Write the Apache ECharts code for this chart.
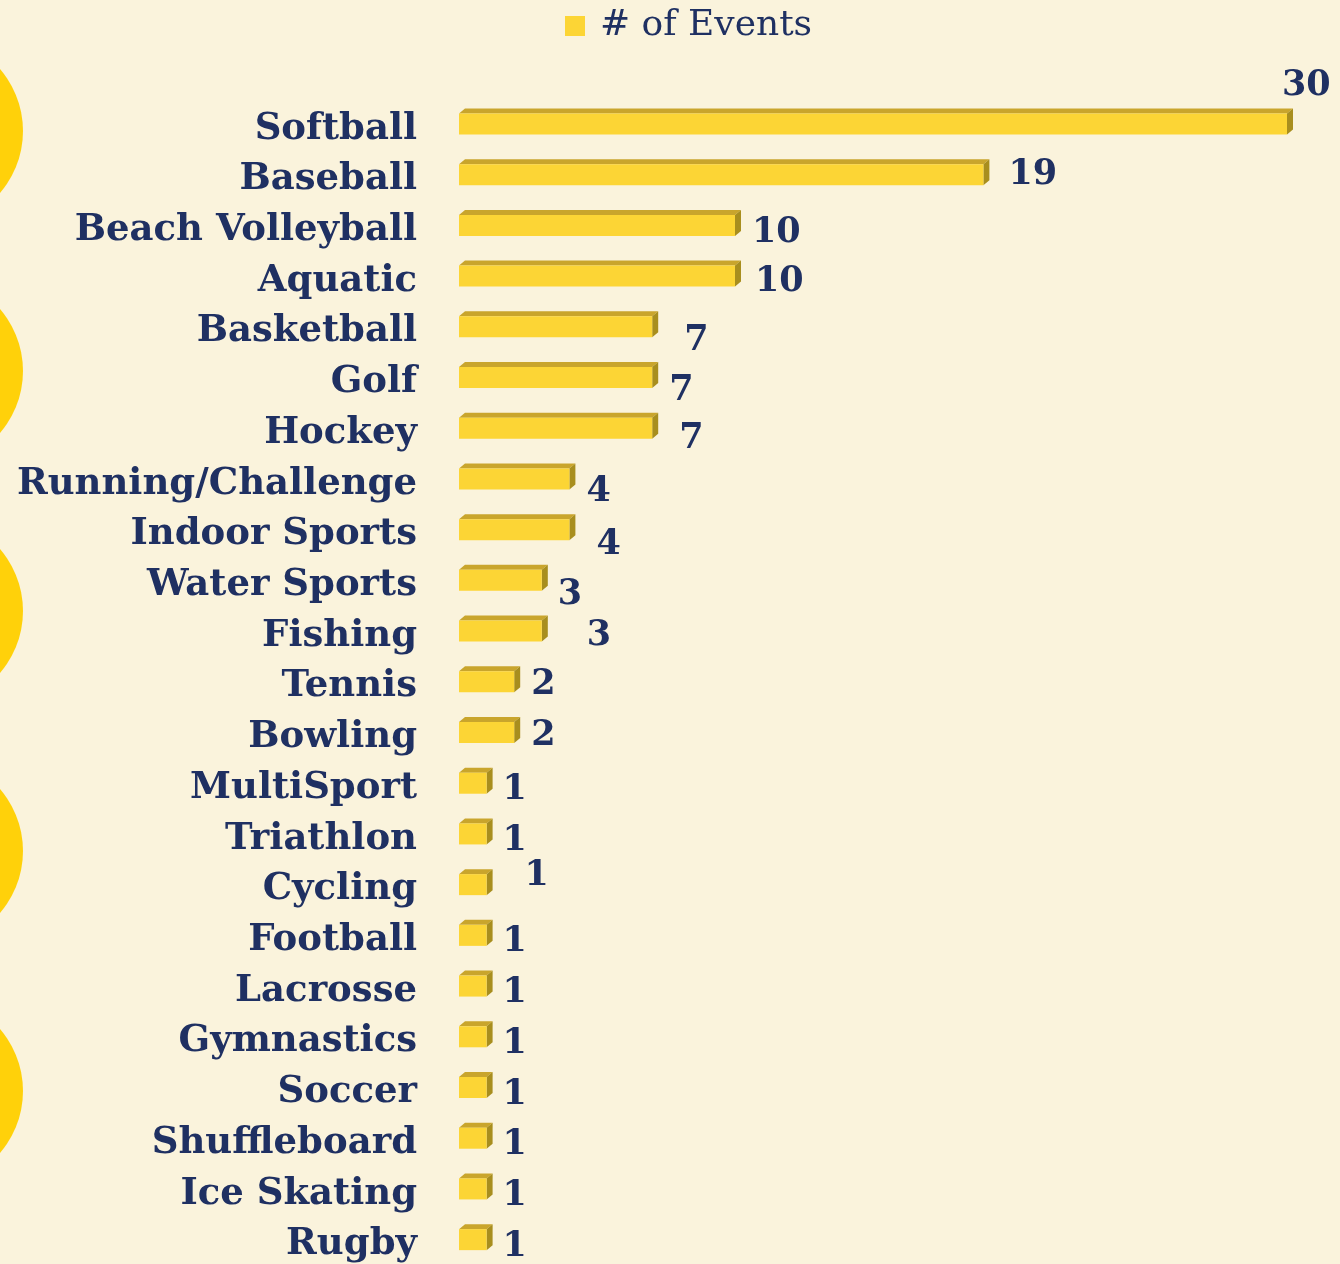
<!DOCTYPE html>
<html>
<head>
<meta charset="utf-8">
<script src="https://cdn.jsdelivr.net/npm/echarts@6/dist/echarts.min.js"></script>
<style>
  html, body { margin: 0; padding: 0; background: #FAF3DC; }
  #chart { width: 1340px; height: 1264px; }
</style>
</head>
<body>
<div id="chart"></div>
<script>
const categories = [
  'Softball', 'Baseball', 'Beach Volleyball', 'Aquatic', 'Basketball', 'Golf', 'Hockey',
  'Running/Challenge', 'Indoor Sports', 'Water Sports', 'Fishing', 'Tennis', 'Bowling',
  'MultiSport', 'Triathlon', 'Cycling', 'Football', 'Lacrosse', 'Gymnastics', 'Soccer',
  'Shuffleboard', 'Ice Skating', 'Rugby'
];
const eventCounts = [30, 19, 10, 10, 7, 7, 7, 4, 4, 3, 3, 2, 2, 1, 1, 1, 1, 1, 1, 1, 1, 1, 1];
const seriesName = '# of Events';

// label nudges (px) to mimic the loose placement of the original value labels
const labelNudge = [
  [-11, -41], [19, -3], [11, 5], [14, 3], [26, 11], [11, 10], [21, 8],
  [11, 10], [21, 12], [10, 12], [39, 2], [11, 0], [11, 0],
  [10, 4], [10, 4], [32, -12], [10, 4], [10, 4], [10, 4], [10, 4],
  [10, 4], [10, 4], [10, 4]
];

const NAVY = '#1F3062';
const FRONT = '#FCD535';
const TOP = '#C9A52C';
const SIDE = '#A88E1E';

const chart = echarts.init(document.getElementById('chart'), null, { renderer: 'canvas' });

const circles = [131, 371, 611, 851, 1091].map(cy => ({
  type: 'circle',
  z: -10,
  shape: { cx: -72, cy: cy, r: 95 },
  style: { fill: '#FFD10A' }
}));

const option = {
  backgroundColor: '#FAF3DC',
  animation: false,
  graphic: circles,
  legend: {
    top: 3,
    left: 560,
    icon: 'rect',
    itemWidth: 20,
    itemHeight: 20,
    textStyle: { color: NAVY, fontFamily: 'DejaVu Serif', fontSize: 36, padding: [0, 0, 0, 10] },
    data: [seriesName]
  },
  grid: { left: 459, right: 53, top: 97.6, height: 1167.8 },
  xAxis: { type: 'value', min: 0, max: 30, show: false },
  yAxis: {
    type: 'category',
    inverse: true,
    data: categories,
    axisLine: { show: false },
    axisTick: { show: false },
    splitLine: { show: false },
    axisLabel: {
      color: NAVY,
      fontFamily: 'DejaVu Serif',
      fontWeight: 'bold',
      fontSize: 37,
      margin: 42,
      verticalAlign: 'top',
      lineHeight: 12
    }
  },
  series: [{
    name: seriesName,
    type: 'custom',
    clip: false,
    itemStyle: { color: FRONT },
    encode: { x: 0, y: 1 },
    data: eventCounts.map((v, i) => [v, i]),
    renderItem: function (params, api) {
      const idx = api.value(1);
      const end = api.coord([api.value(0), idx]);
      const start = api.coord([0, idx]);
      const h = 21, dx = 6, dy = 5;
      const y0 = end[1] - h / 2 + 1;
      const sx = start[0], ex = end[0];
      const nudge = labelNudge[params.dataIndex] || [10, 4];
      return {
        type: 'group',
        children: [
          { type: 'polygon', shape: { points: [[sx, y0], [sx + dx, y0 - dy], [ex + dx, y0 - dy], [ex, y0]] }, style: { fill: TOP } },
          { type: 'polygon', shape: { points: [[ex, y0], [ex + dx, y0 - dy], [ex + dx, y0 + h - dy], [ex, y0 + h]] }, style: { fill: SIDE } },
          { type: 'rect', shape: { x: sx, y: y0, width: ex - sx, height: h }, style: { fill: FRONT } },
          { type: 'text', style: {
              text: String(api.value(0)),
              x: ex + dx + nudge[0],
              y: end[1] + 4 + nudge[1],
              verticalAlign: 'middle',
              align: 'left',
              fill: NAVY,
              font: 'bold 35px "DejaVu Serif"'
            } }
        ]
      };
    }
  }]
};

chart.setOption(option);
</script>
</body>
</html>
